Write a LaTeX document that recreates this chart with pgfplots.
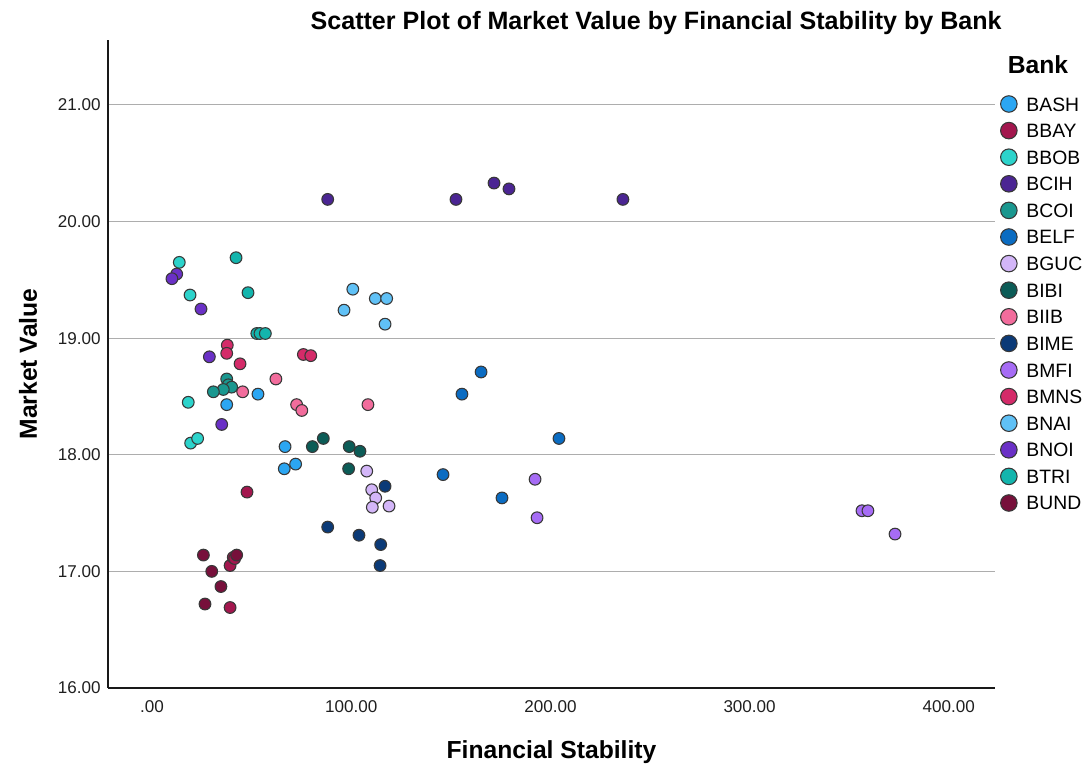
\documentclass[border=0pt]{standalone}
\usepackage{pgfplots}
\pgfplotsset{compat=1.18}
\usepackage{fontspec}
\setmainfont{Liberation Sans}
\definecolor{cBASH}{HTML}{2BA6F2}
\definecolor{cBBAY}{HTML}{A3174E}
\definecolor{cBBOB}{HTML}{2CD3CB}
\definecolor{cBCIH}{HTML}{4B2593}
\definecolor{cBCOI}{HTML}{1A978F}
\definecolor{cBELF}{HTML}{0B6CC2}
\definecolor{cBGUC}{HTML}{D3B6F8}
\definecolor{cBIBI}{HTML}{0C5C57}
\definecolor{cBIIB}{HTML}{F26C9C}
\definecolor{cBIME}{HTML}{0B3A77}
\definecolor{cBMFI}{HTML}{A66CF5}
\definecolor{cBMNS}{HTML}{D42B69}
\definecolor{cBNAI}{HTML}{60C1F6}
\definecolor{cBNOI}{HTML}{6A30C6}
\definecolor{cBTRI}{HTML}{13B5AD}
\definecolor{cBUND}{HTML}{77103B}
\pgfplotsset{
  bk/.style={only marks, mark=*, mark size=4.4pt,
    mark options={fill=#1, draw=black!78, line width=0.8pt}},
}
\begin{document}
\begin{tikzpicture}
\useasboundingbox (-81pt,-59.25pt) rectangle (732.75pt,516pt);
\begin{axis}[
  at={(0,0)}, anchor=south west,
  scale only axis, width=665.25pt, height=486pt,
  xmin=-22.09, xmax=423.19, ymin=16, ymax=21.557,
  axis x line*=bottom, axis y line*=left,
  axis line style={line width=0.9pt, black!90},
  xtick={0,100,200,300,400},
  xticklabels={.00,100.00,200.00,300.00,400.00},
  ytick={16,17,18,19,20,21},
  yticklabels={16.00,17.00,18.00,19.00,20.00,21.00},
  major tick length=0pt,
  ymajorgrids, grid style={draw=black!32, line width=0.8pt},
  tick label style={font=\fontsize{12.8}{15}\selectfont, text=black!88},
  xticklabel style={yshift=-6pt},
  yticklabel style={xshift=-2pt},
  clip=false,
  title={Scatter Plot of Market Value by Financial Stability by Bank},
  title style={at={(axis description cs:0.618,1.014)}, anchor=center,
    font=\fontsize{18.8}{22}\selectfont\bfseries},
  xlabel={Financial Stability},
  ylabel={Market Value},
  xlabel style={at={(axis description cs:0.5,-0.0988)}, anchor=center,
    font=\fontsize{18.5}{22}\selectfont\bfseries},
  ylabel style={at={(axis description cs:-0.0902,0.5)}, anchor=center, rotate=0,
    font=\fontsize{18.5}{22}\selectfont\bfseries},
  legend image code/.code={\draw[#1] plot coordinates {(0pt,0pt)};},
  legend image post style={mark size=6.2pt, line width=1pt},
  legend style={at={(axis description cs:1.006,0.9144)}, anchor=north west,
    draw=none, fill=none, inner sep=0pt,
    font=\fontsize{14.5}{17}\selectfont,
    nodes={inner sep=0pt, text height=10.5pt, text depth=0pt},
    row sep=7.55pt,
    /tikz/every odd column/.append style={column sep=7pt}},
  legend cell align=left,
]
% BASH
\addplot[bk=cBASH] coordinates {(53.2,18.52) (37.5,18.43) (66.8,18.07) (72.1,17.92) (66.4,17.88)};
\addlegendentry{BASH}
% BBAY
\addplot[bk=cBBAY] coordinates {(47.7,17.68) (39.2,17.05) (39.2,16.69) (40.8,17.12) (41.5,17.11)};
\addlegendentry{BBAY}
% BBOB
\addplot[bk=cBBOB] coordinates {(13.7,19.65) (19.1,19.37) (18.2,18.45) (19.4,18.10) (22.9,18.14)};
\addlegendentry{BBOB}
% BCIH
\addplot[bk=cBCIH] coordinates {(88.2,20.19) (152.6,20.19) (171.7,20.33) (179.2,20.28) (236.4,20.19)};
\addlegendentry{BCIH}
% BCOI
\addplot[bk=cBCOI] coordinates {(37.5,18.65) (38.3,18.60) (40.0,18.58) (35.8,18.56) (30.8,18.54)};
\addlegendentry{BCOI}
% BELF
\addplot[bk=cBELF] coordinates {(165.2,18.71) (155.6,18.52) (204.3,18.14) (146.1,17.83) (175.7,17.63)};
\addlegendentry{BELF}
% BGUC
\addplot[bk=cBGUC] coordinates {(107.8,17.86) (110.3,17.70) (112.3,17.63) (110.6,17.55) (119.0,17.56)};
\addlegendentry{BGUC}
% BIBI
\addplot[bk=cBIBI] coordinates {(80.5,18.07) (86.0,18.14) (99.0,18.07) (104.4,18.03) (98.7,17.88)};
\addlegendentry{BIBI}
% BIIB
\addplot[bk=cBIIB] coordinates {(62.2,18.65) (45.5,18.54) (72.6,18.43) (75.2,18.38) (108.4,18.43)};
\addlegendentry{BIIB}
% BIME
\addplot[bk=cBIME] coordinates {(117.0,17.73) (88.2,17.38) (103.9,17.31) (114.8,17.23) (114.5,17.05)};
\addlegendentry{BIME}
% BMFI
\addplot[bk=cBMFI] coordinates {(192.3,17.79) (193.3,17.46) (356.4,17.52) (359.4,17.52) (373.0,17.32)};
\addlegendentry{BMFI}
% BMNS
\addplot[bk=cBMNS] coordinates {(37.8,18.94) (37.5,18.87) (44.2,18.78) (76.0,18.86) (79.7,18.85)};
\addlegendentry{BMNS}
% BNAI
\addplot[bk=cBNAI] coordinates {(100.8,19.42) (112.1,19.34) (117.8,19.34) (96.4,19.24) (117.0,19.12)};
\addlegendentry{BNAI}
% BNOI
\addplot[bk=cBNOI] coordinates {(12.4,19.55) (10.0,19.51) (24.6,19.25) (28.8,18.84) (35.0,18.26)};
\addlegendentry{BNOI}
% BTRI
\addplot[bk=cBTRI] coordinates {(42.2,19.69) (48.2,19.39) (52.6,19.04) (54.2,19.04) (56.9,19.04)};
\addlegendentry{BTRI}
% BUND
\addplot[bk=cBUND] coordinates {(25.8,17.14) (42.5,17.14) (30.0,17.00) (34.6,16.87) (26.6,16.72)};
\addlegendentry{BUND}
\node[font=\fontsize{18.5}{22}\selectfont\bfseries] at (axis description cs:1.0485,0.9614) {Bank};
\end{axis}
\end{tikzpicture}
\end{document}
